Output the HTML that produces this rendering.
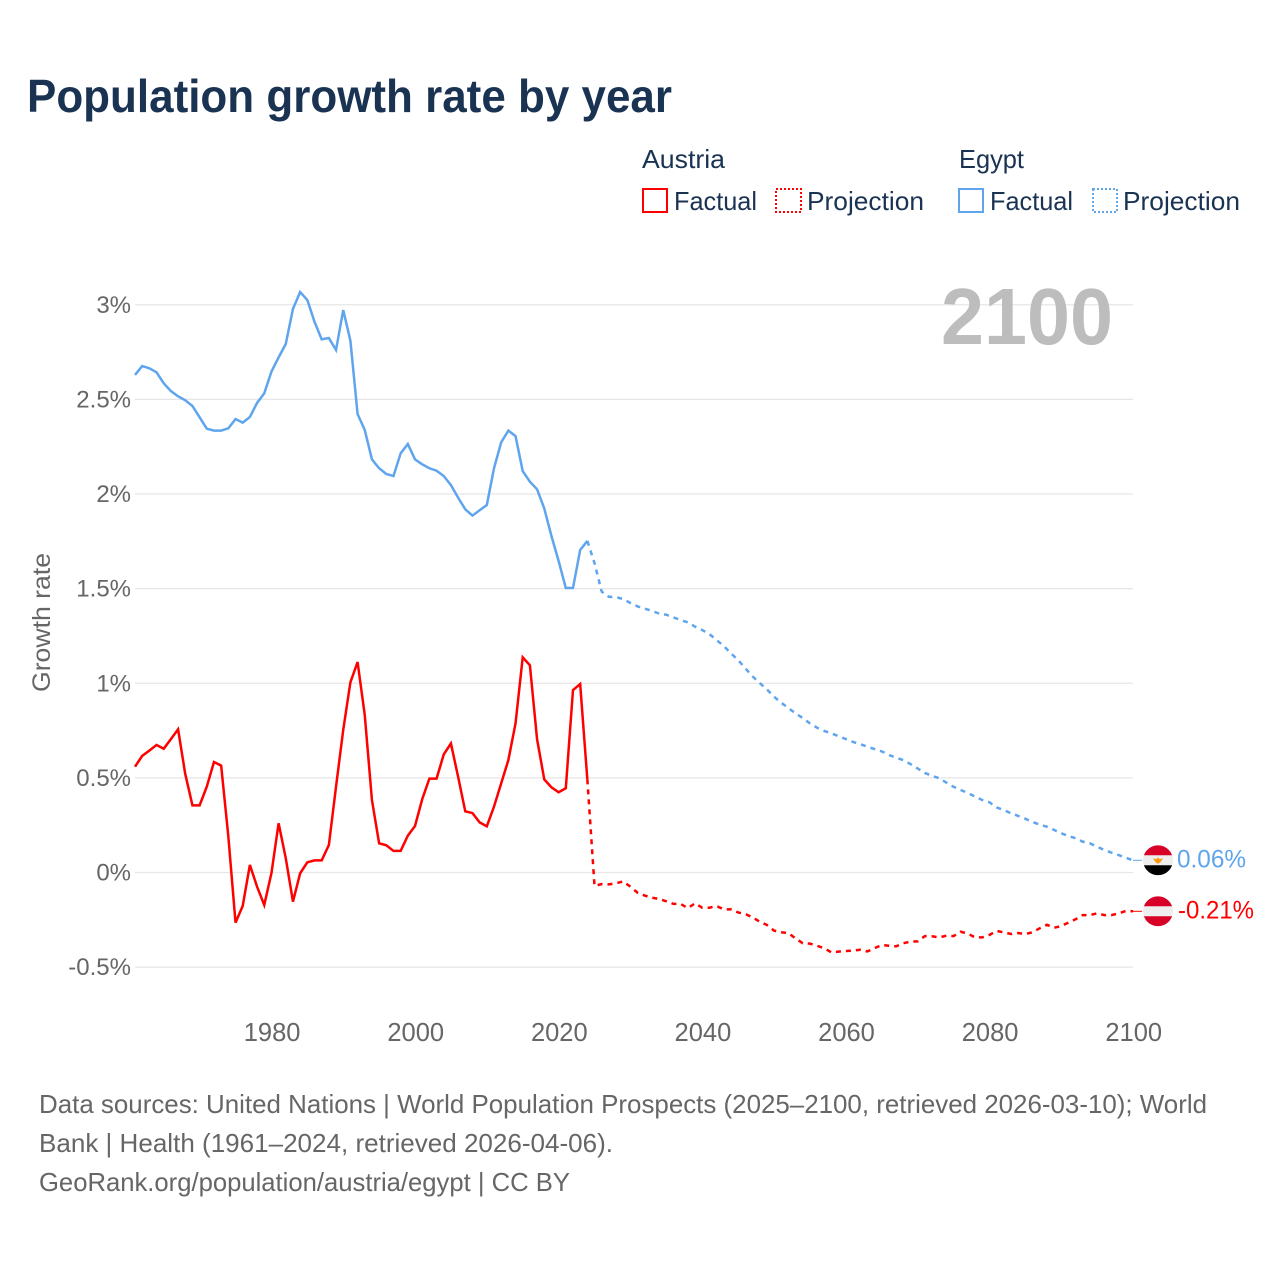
<!DOCTYPE html>
<html lang="en">
<head>
<meta charset="utf-8">
<title>Population growth rate by year</title>
<style>
  html, body { margin: 0; padding: 0; background: #fff; }
  svg { display: block; font-family: "Liberation Sans", sans-serif; }
</style>
</head>
<body>
<svg id="chart" xmlns="http://www.w3.org/2000/svg" width="1280" height="1280" viewBox="0 0 1280 1280">
  <rect x="0" y="0" width="1280" height="1280" fill="#ffffff"/>
  <text x="27" y="112" font-size="46" font-weight="700" fill="#1a3353" textLength="645" lengthAdjust="spacingAndGlyphs">Population growth rate by year</text>

  <g font-size="26" fill="#1a3353">
    <text x="642" y="168" textLength="83" lengthAdjust="spacingAndGlyphs">Austria</text>
    <g>
      <rect x="643" y="189" width="24" height="23" fill="none" stroke="#ff0000" stroke-width="2"/>
      <text x="674" y="210" textLength="83" lengthAdjust="spacingAndGlyphs">Factual</text>
    </g>
    <g>
      <rect x="776" y="189" width="25" height="23" fill="none" stroke="#ff0000" stroke-width="2" stroke-dasharray="2 2"/>
      <text x="807" y="210" textLength="117" lengthAdjust="spacingAndGlyphs">Projection</text>
    </g>
    <text x="959" y="168" textLength="65" lengthAdjust="spacingAndGlyphs">Egypt</text>
    <g>
      <rect x="959" y="189" width="24" height="23" fill="none" stroke="#5fa5ee" stroke-width="2"/>
      <text x="990" y="210" textLength="83" lengthAdjust="spacingAndGlyphs">Factual</text>
    </g>
    <g>
      <rect x="1093" y="189" width="24" height="23" fill="none" stroke="#5fa5ee" stroke-width="2" stroke-dasharray="2 2"/>
      <text x="1123" y="210" textLength="117" lengthAdjust="spacingAndGlyphs">Projection</text>
    </g>
  </g>

  <g id="grid"></g>
  <g id="yticks"></g>
  <g id="xticks"></g>

  <text transform="translate(50,692) rotate(-90)" font-size="25" fill="#666666" textLength="139" lengthAdjust="spacingAndGlyphs">Growth rate</text>
  <text x="941" y="344" font-size="80" font-weight="700" fill="#bdbdbd" textLength="172" lengthAdjust="spacingAndGlyphs">2100</text>

  <g id="series"></g>
  <g id="ends"></g>

  <g font-size="26" fill="#666666">
    <text x="39" y="1113" textLength="1168" lengthAdjust="spacingAndGlyphs">Data sources: United Nations | World Population Prospects (2025–2100, retrieved 2026-03-10); World</text>
    <text x="39" y="1152" textLength="574" lengthAdjust="spacingAndGlyphs">Bank | Health (1961–2024, retrieved 2026-04-06).</text>
    <text x="39" y="1191" textLength="531" lengthAdjust="spacingAndGlyphs">GeoRank.org/population/austria/egypt | CC BY</text>
  </g>
</svg>

<script>
const yTicks = [3, 2.5, 2, 1.5, 1, 0.5, 0, -0.5];
const yTickLabels = ["3%", "2.5%", "2%", "1.5%", "1%", "0.5%", "0%", "-0.5%"];
const xTicks = [1980, 2000, 2020, 2040, 2060, 2080, 2100];
const firstFactualYear = 1961;
const firstProjectionYear = 2025;

const austriaFactual = [
  0.559, 0.616, 0.644, 0.674, 0.654, 0.705, 0.757, 0.52, 0.355, 0.355,
  0.454, 0.584, 0.565, 0.19, -0.265, -0.177, 0.04, -0.075, -0.172, -0.004,
  0.26, 0.075, -0.154, -0.004, 0.054, 0.064, 0.064, 0.145, 0.454, 0.753,
  1.005, 1.112, 0.832, 0.383, 0.154, 0.144, 0.114, 0.114, 0.195, 0.246,
  0.387, 0.496, 0.496, 0.624, 0.682, 0.506, 0.323, 0.314, 0.265, 0.244,
  0.348, 0.471, 0.594, 0.788, 1.137, 1.095, 0.704, 0.492, 0.45, 0.424,
  0.445, 0.964, 0.996, 0.492
];
const austriaProjection = [
  -0.071, -0.061, -0.063, -0.057, -0.047, -0.075, -0.107, -0.122, -0.133, -0.14,
  -0.152, -0.166, -0.166, -0.188, -0.163, -0.186, -0.186, -0.177, -0.195, -0.195,
  -0.211, -0.219, -0.237, -0.26, -0.277, -0.307, -0.316, -0.32, -0.348, -0.374,
  -0.376, -0.387, -0.401, -0.422, -0.418, -0.415, -0.413, -0.408, -0.417, -0.4,
  -0.383, -0.387, -0.39, -0.374, -0.365, -0.364, -0.336, -0.337, -0.343, -0.334,
  -0.336, -0.313, -0.323, -0.343, -0.343, -0.33, -0.309, -0.316, -0.325, -0.32,
  -0.325, -0.316, -0.295, -0.276, -0.292, -0.283, -0.265, -0.247, -0.225, -0.225,
  -0.216, -0.225, -0.225, -0.216, -0.203, -0.205
];
const egyptFactual = [
  2.629, 2.676, 2.664, 2.643, 2.585, 2.544, 2.516, 2.495, 2.465, 2.405,
  2.345, 2.335, 2.335, 2.347, 2.396, 2.377, 2.407, 2.481, 2.532, 2.646,
  2.722, 2.793, 2.978, 3.067, 3.025, 2.91, 2.817, 2.824, 2.761, 2.972,
  2.81, 2.423, 2.338, 2.183, 2.136, 2.106, 2.095, 2.215, 2.264, 2.183,
  2.157, 2.136, 2.123, 2.095, 2.047, 1.981, 1.919, 1.886, 1.914, 1.942,
  2.136, 2.273, 2.335, 2.306, 2.121, 2.065, 2.025, 1.924, 1.778, 1.646,
  1.503, 1.503, 1.704, 1.752
];
const egyptProjection = [
  1.635, 1.484, 1.457, 1.455, 1.445, 1.424, 1.406, 1.394, 1.382, 1.368,
  1.362, 1.348, 1.334, 1.322, 1.299, 1.281, 1.26, 1.228, 1.197, 1.158,
  1.123, 1.079, 1.037, 1.001, 0.968, 0.929, 0.897, 0.869, 0.841, 0.816,
  0.788, 0.765, 0.748, 0.735, 0.72, 0.705, 0.69, 0.678, 0.665, 0.652,
  0.64, 0.621, 0.607, 0.594, 0.573, 0.55, 0.526, 0.511, 0.498, 0.475,
  0.453, 0.436, 0.42, 0.401, 0.383, 0.371, 0.344, 0.33, 0.313, 0.299,
  0.284, 0.267, 0.253, 0.242, 0.225, 0.207, 0.193, 0.181, 0.163, 0.154,
  0.136, 0.119, 0.105, 0.092, 0.078, 0.0645
];
const endLabels = ["0.06%", "-0.21%"];

const SVG_NS = "http://www.w3.org/2000/svg";
const RED = "#ff0000";
const BLUE = "#5fa5ee";
const LINE_WIDTH = "2.5";
const xScale = function (year) { return 135 + (year - 1961) * 7.18; };
const yScale = function (value) { return 872.5 - value * 189.25; };
const make = function (tag, parent) {
  const node = document.createElementNS(SVG_NS, tag);
  parent.appendChild(node);
  return node;
};
const pointsFrom = function (values, startYear) {
  return values.map(function (v, i) {
    return xScale(startYear + i).toFixed(2) + "," + yScale(v).toFixed(2);
  });
};

const gridGroup = document.getElementById("grid");
const yTickGroup = document.getElementById("yticks");
yTicks.forEach(function (tick, i) {
  const line = make("line", gridGroup);
  
  
  line.setAttribute("x1", xScale(1961));
  line.setAttribute("x2", xScale(2100));
  line.setAttribute("y1", yScale(tick));
  line.setAttribute("y2", yScale(tick));
  line.setAttribute("stroke", "#e6e6e6");
  line.setAttribute("stroke-width", "1.2");

  const label = make("text", yTickGroup);
  
  
  label.setAttribute("x", 131);
  label.setAttribute("y", yScale(tick) + 8);
  label.setAttribute("text-anchor", "end");
  label.setAttribute("font-size", "24");
  label.setAttribute("fill", "#666666");
  label.textContent = yTickLabels[i];
});

const xTickGroup = document.getElementById("xticks");
xTicks.forEach(function (year) {
  const label = make("text", xTickGroup);
  
  
  label.setAttribute("x", xScale(year) + 0.7);
  label.setAttribute("y", 1041);
  label.setAttribute("text-anchor", "middle");
  label.setAttribute("font-size", "25.5");
  label.setAttribute("fill", "#666666");
  label.textContent = String(year);
});

const seriesGroup = document.getElementById("series");

const austriaFactualLine = make("polyline", seriesGroup);


austriaFactualLine.setAttribute("points", pointsFrom(austriaFactual, firstFactualYear).join(" "));
austriaFactualLine.setAttribute("fill", "none");
austriaFactualLine.setAttribute("stroke", RED);
austriaFactualLine.setAttribute("stroke-width", LINE_WIDTH);

const austriaProjectionLine = make("polyline", seriesGroup);


austriaProjectionLine.setAttribute("points", pointsFrom(austriaFactual.slice(-1).concat(austriaProjection), firstProjectionYear - 1).join(" "));
austriaProjectionLine.setAttribute("fill", "none");
austriaProjectionLine.setAttribute("stroke", RED);
austriaProjectionLine.setAttribute("stroke-width", LINE_WIDTH);
austriaProjectionLine.setAttribute("stroke-dasharray", "5 5");

const egyptFactualLine = make("polyline", seriesGroup);


egyptFactualLine.setAttribute("points", pointsFrom(egyptFactual, firstFactualYear).join(" "));
egyptFactualLine.setAttribute("fill", "none");
egyptFactualLine.setAttribute("stroke", BLUE);
egyptFactualLine.setAttribute("stroke-width", LINE_WIDTH);

const egyptProjectionLine = make("polyline", seriesGroup);


egyptProjectionLine.setAttribute("points", pointsFrom(egyptFactual.slice(-1).concat(egyptProjection), firstProjectionYear - 1).join(" "));
egyptProjectionLine.setAttribute("fill", "none");
egyptProjectionLine.setAttribute("stroke", BLUE);
egyptProjectionLine.setAttribute("stroke-width", LINE_WIDTH);
egyptProjectionLine.setAttribute("stroke-dasharray", "5 5");

const endsGroup = document.getElementById("ends");
const egyptEndY = yScale(egyptProjection[egyptProjection.length - 1]);
const austriaEndY = yScale(austriaProjection[austriaProjection.length - 1]);

const egyptConnector = make("line", endsGroup);


egyptConnector.setAttribute("x1", xScale(2100));
egyptConnector.setAttribute("x2", 1142);
egyptConnector.setAttribute("y1", egyptEndY);
egyptConnector.setAttribute("y2", egyptEndY);
egyptConnector.setAttribute("stroke", BLUE);
egyptConnector.setAttribute("stroke-width", "1");

const austriaConnector = make("line", endsGroup);


austriaConnector.setAttribute("x1", xScale(2100));
austriaConnector.setAttribute("x2", 1142);
austriaConnector.setAttribute("y1", austriaEndY);
austriaConnector.setAttribute("y2", austriaEndY);
austriaConnector.setAttribute("stroke", RED);
austriaConnector.setAttribute("stroke-width", "1");

const egyptFlag = make("g", endsGroup);


egyptFlag.setAttribute("transform", "translate(1158," + egyptEndY + ")");
const egyptBase = make("circle", egyptFlag);


egyptBase.setAttribute("r", "15");
egyptBase.setAttribute("fill", "#eeeeee");
const egyptTop = make("path", egyptFlag);


egyptTop.setAttribute("d", "M-14.1,-5 A15,15 0 0 1 14.1,-5 Z");
egyptTop.setAttribute("fill", "#d80027");
const egyptBottom = make("path", egyptFlag);


egyptBottom.setAttribute("d", "M-14.1,5 A15,15 0 0 0 14.1,5 Z");
egyptBottom.setAttribute("fill", "#000000");
const eagle = make("path", egyptFlag);


eagle.setAttribute("d", "M-5,-2 L-1.5,-1 L0,-3 L1.5,-1 L5,-2 L2.5,2 L0,3.5 L-2.5,2 Z");
eagle.setAttribute("fill", "#ff9811");

const austriaFlag = make("g", endsGroup);


austriaFlag.setAttribute("transform", "translate(1158," + austriaEndY + ")");
const austriaBase = make("circle", austriaFlag);


austriaBase.setAttribute("r", "15");
austriaBase.setAttribute("fill", "#eeeeee");
const austriaTop = make("path", austriaFlag);


austriaTop.setAttribute("d", "M-14.1,-5 A15,15 0 0 1 14.1,-5 Z");
austriaTop.setAttribute("fill", "#d80027");
const austriaBottom = make("path", austriaFlag);


austriaBottom.setAttribute("d", "M-14.1,5 A15,15 0 0 0 14.1,5 Z");
austriaBottom.setAttribute("fill", "#d80027");

const egyptEndLabel = make("text", endsGroup);


egyptEndLabel.setAttribute("x", 1177);
egyptEndLabel.setAttribute("y", egyptEndY + 7);
egyptEndLabel.setAttribute("font-size", "25");
egyptEndLabel.setAttribute("fill", BLUE);
egyptEndLabel.setAttribute("textLength", "69");
egyptEndLabel.setAttribute("lengthAdjust", "spacingAndGlyphs");
egyptEndLabel.textContent = endLabels[0];

const austriaEndLabel = make("text", endsGroup);


austriaEndLabel.setAttribute("x", 1178);
austriaEndLabel.setAttribute("y", austriaEndY + 7);
austriaEndLabel.setAttribute("font-size", "25");
austriaEndLabel.setAttribute("fill", RED);
austriaEndLabel.setAttribute("textLength", "76");
austriaEndLabel.setAttribute("lengthAdjust", "spacingAndGlyphs");
austriaEndLabel.textContent = endLabels[1];
</script>
</body>
</html>
